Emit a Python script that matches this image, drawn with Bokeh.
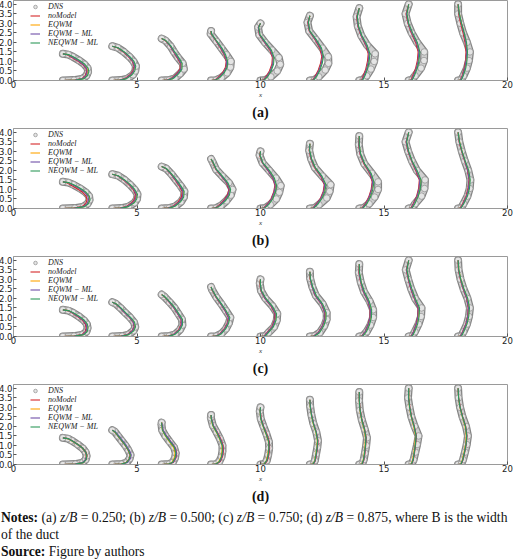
from bokeh.plotting import figure
from bokeh.models import Range1d, Legend, LegendItem, Title, Div, FixedTicker, NumeralTickFormatter, Label
from bokeh.layouts import column
from bokeh.embed import file_html
from bokeh.resources import INLINE

# ---------------- data ----------------
STATIONS = [2, 4, 6, 8, 10, 12, 14, 16, 18]

Y_X2 = [0, .02, .1, .25, .45, .65, .85, 1.05, 1.25, 1.36, 1.4]
Y_X4 = [0, .02, .1, .3, .5, .75, 1.0, 1.25, 1.5, 1.72, 1.8]
Y_X6 = [0, .02, .12, .35, .6, .9, 1.2, 1.5, 1.8, 2.1, 2.2]
Y_X8 = [0, .02, .15, .4, .7, 1.0, 1.35, 1.7, 2.05, 2.45, 2.6]
Y_X10 = [0, .03, .2, .5, .85, 1.2, 1.6, 2.0, 2.4, 2.8, 3.0]
Y_X12 = [0, .03, .2, .55, .9, 1.25, 1.7, 2.15, 2.6, 3.05, 3.4]
Y_X14 = [0, .03, .25, .6, 1.0, 1.4, 1.85, 2.35, 2.85, 3.35, 3.8]
Y_X16 = [0, .03, .25, .65, 1.05, 1.5, 2.0, 2.5, 3.0, 3.5, 4.0]
Y_X18 = [0, .03, .25, .65, 1.05, 1.5, 2.0, 2.5, 3.0, 3.5, 4.0]
Y_LEVELS = [Y_X2, Y_X4, Y_X6, Y_X8, Y_X10, Y_X12, Y_X14, Y_X16, Y_X18]

# streamwise velocity offsets u (profile x = station + u), one list per station
# ---- (a) z/B = 0.250
A_DNS = [
    [0, .45, .8, .95, 1.02, 1.0, .87, .66, .4, .22, 0],
    [0, .35, .62, .84, .93, .96, .86, .69, .47, .22, 0],
    [0, .3, .54, .74, .9, .85, .66, .5, .36, .15, 0],
    [0, .2, .42, .65, .78, .8, .62, .42, .22, -.02, 0],
    [0, .2, .42, .68, .8, .74, .46, .18, -.05, -.1, 0],
    [0, .18, .36, .62, .75, .74, .5, .24, -.03, -.1, 0],
    [0, .15, .3, .47, .6, .64, .32, .08, -.06, -.11, 0],
    [0, .13, .26, .5, .62, .63, .34, .12, -.04, -.13, 0],
    [0, .12, .22, .36, .44, .48, .36, .2, .09, 0, 0],
]
A_NOMODEL = [
    [0, .48, .77, .9, .96, .93, .79, .57, .31, .15, 0],
    [0, .29, .5, .72, .83, .88, .81, .65, .44, .2, 0],
    [0, .21, .4, .6, .74, .76, .62, .48, .34, .14, 0],
    [0, .14, .28, .46, .58, .61, .53, .38, .21, 0, 0],
    [0, .11, .22, .36, .46, .48, .38, .16, -.05, -.09, 0],
    [0, .11, .2, .34, .43, .48, .4, .2, -.03, -.09, 0],
    [0, .09, .16, .26, .33, .36, .26, .07, -.06, -.11, 0],
    [0, .09, .16, .28, .35, .38, .28, .1, -.03, -.11, 0],
    [0, .09, .16, .25, .3, .32, .28, .2, .1, .02, 0],
]
A_EQWM = [
    [0, .52, .83, .96, 1.01, .98, .85, .63, .37, .2, 0],
    [0, .34, .56, .77, .87, .91, .84, .68, .47, .22, 0],
    [0, .26, .46, .65, .78, .79, .65, .5, .36, .15, 0],
    [0, .18, .33, .5, .62, .64, .56, .41, .23, 0, 0],
    [0, .15, .27, .4, .5, .52, .41, .18, -.03, -.08, 0],
    [0, .14, .25, .38, .47, .52, .44, .23, -.01, -.07, 0],
    [0, .12, .2, .3, .37, .4, .29, .09, -.04, -.09, 0],
    [0, .12, .2, .32, .39, .42, .32, .13, -.01, -.08, 0],
    [0, .11, .19, .28, .33, .35, .32, .24, .14, .05, 0],
]
A_EQWM_ML = [
    [0, .5, .8, .93, .98, .95, .82, .61, .35, .19, 0],
    [0, .31, .53, .75, .86, .9, .83, .67, .46, .22, 0],
    [0, .23, .43, .63, .77, .78, .64, .49, .35, .15, 0],
    [0, .16, .31, .49, .61, .63, .55, .4, .22, 0, 0],
    [0, .13, .25, .39, .49, .51, .4, .17, -.04, -.09, 0],
    [0, .13, .23, .37, .46, .51, .43, .22, -.02, -.08, 0],
    [0, .11, .19, .29, .36, .39, .28, .08, -.05, -.1, 0],
    [0, .11, .19, .31, .38, .41, .31, .12, -.02, -.09, 0],
    [0, .1, .18, .27, .32, .35, .31, .23, .13, .04, 0],
]
A_NEQWM_ML = [
    [0, .54, .86, .99, 1.05, 1.02, .89, .68, .42, .23, 0],
    [0, .35, .58, .8, .91, .95, .88, .71, .49, .23, 0],
    [0, .27, .48, .68, .82, .83, .69, .53, .38, .17, 0],
    [0, .19, .35, .53, .65, .67, .59, .44, .24, .02, 0],
    [0, .16, .29, .43, .53, .55, .44, .21, -.02, -.07, 0],
    [0, .16, .27, .41, .5, .55, .47, .26, 0, -.06, 0],
    [0, .14, .23, .33, .4, .43, .32, .11, -.03, -.08, 0],
    [0, .14, .23, .35, .42, .45, .35, .16, 0, -.07, 0],
    [0, .13, .21, .31, .36, .38, .34, .25, .14, .05, 0],
]
# ---- (b) z/B = 0.500
B_DNS = [
    [0, .48, .84, 1.0, 1.08, 1.06, .92, .7, .42, .22, 0],
    [0, .38, .66, .9, 1.0, 1.02, .9, .72, .5, .24, 0],
    [0, .3, .56, .78, .9, .92, .76, .58, .4, .18, 0],
    [0, .2, .4, .62, .8, .87, .72, .45, .2, .06, 0],
    [0, .2, .4, .64, .76, .82, .62, .35, .08, -.04, 0],
    [0, .2, .37, .68, .8, .84, .5, .2, .05, -.03, 0],
    [0, .18, .4, .62, .76, .76, .5, .2, .04, -.02, 0],
    [0, .15, .26, .52, .64, .66, .33, .13, -.02, -.13, 0],
    [0, .12, .22, .38, .47, .5, .41, .27, .15, .05, 0],
]
B_NOMODEL = [
    [0, .43, .77, .92, .98, .94, .8, .56, .3, .14, 0],
    [0, .3, .55, .79, .9, .94, .84, .66, .45, .21, 0],
    [0, .23, .46, .67, .8, .83, .7, .54, .37, .16, 0],
    [0, .14, .3, .5, .66, .72, .62, .41, .19, .05, 0],
    [0, .12, .26, .42, .53, .58, .5, .3, .07, -.04, 0],
    [0, .12, .24, .43, .54, .58, .43, .18, .04, -.03, 0],
    [0, .11, .24, .38, .48, .52, .42, .18, .03, -.03, 0],
    [0, .09, .18, .32, .4, .43, .28, .11, -.03, -.11, 0],
    [0, .08, .18, .32, .4, .44, .38, .26, .14, .04, 0],
]
B_EQWM = [
    [0, .5, .85, 1.0, 1.07, 1.04, .9, .68, .4, .2, 0],
    [0, .35, .62, .86, .96, .99, .88, .7, .48, .23, 0],
    [0, .28, .52, .73, .86, .88, .74, .57, .4, .18, 0],
    [0, .18, .35, .55, .71, .76, .65, .43, .2, .06, 0],
    [0, .16, .3, .46, .57, .62, .53, .33, .09, -.03, 0],
    [0, .16, .28, .47, .58, .62, .46, .21, .06, -.02, 0],
    [0, .15, .28, .42, .52, .56, .45, .21, .05, -.01, 0],
    [0, .13, .22, .36, .44, .47, .31, .13, -.01, -.09, 0],
    [0, .11, .21, .35, .43, .47, .41, .28, .16, .06, 0],
]
B_EQWM_ML = [
    [0, .48, .82, .98, 1.04, 1.01, .88, .66, .38, .2, 0],
    [0, .33, .59, .83, .94, .97, .87, .69, .47, .22, 0],
    [0, .26, .49, .71, .84, .86, .73, .56, .38, .17, 0],
    [0, .16, .33, .53, .69, .74, .64, .42, .2, .06, 0],
    [0, .14, .28, .44, .55, .6, .51, .31, .08, -.03, 0],
    [0, .14, .26, .45, .56, .6, .45, .2, .05, -.02, 0],
    [0, .13, .26, .4, .5, .54, .44, .2, .04, -.02, 0],
    [0, .11, .2, .34, .42, .45, .3, .12, -.02, -.1, 0],
    [0, .1, .2, .34, .42, .45, .39, .27, .15, .05, 0],
]
B_NEQWM_ML = [
    [0, .52, .88, 1.03, 1.1, 1.07, .94, .72, .44, .23, 0],
    [0, .37, .65, .89, .99, 1.02, .91, .73, .5, .24, 0],
    [0, .3, .54, .76, .89, .91, .77, .6, .41, .19, 0],
    [0, .19, .37, .58, .74, .79, .68, .46, .22, .07, 0],
    [0, .17, .33, .49, .6, .65, .56, .36, .1, -.02, 0],
    [0, .17, .31, .5, .61, .65, .49, .22, .07, -.01, 0],
    [0, .16, .31, .45, .55, .59, .48, .22, .06, 0, 0],
    [0, .14, .25, .39, .47, .5, .34, .14, 0, -.08, 0],
    [0, .12, .23, .38, .46, .49, .43, .29, .16, .06, 0],
]
# ---- (c) z/B = 0.750
C_DNS = [
    [0, .45, .8, .95, 1.0, .97, .85, .65, .4, .22, 0],
    [0, .4, .66, .86, .93, .88, .72, .52, .33, .14, 0],
    [0, .3, .55, .74, .84, .82, .67, .52, .32, .1, 0],
    [0, .22, .42, .6, .72, .78, .6, .42, .22, .04, 0],
    [0, .2, .32, .55, .66, .68, .48, .2, .02, -.03, 0],
    [0, .2, .4, .58, .68, .68, .52, .24, .1, .01, 0],
    [0, .15, .3, .45, .56, .56, .42, .19, .06, -.02, 0],
    [0, .15, .25, .4, .5, .52, .26, .1, -.02, -.12, 0],
    [0, .13, .22, .36, .44, .48, .38, .22, .1, .02, 0],
]
C_NOMODEL = [
    [0, .45, .77, .9, .94, .91, .79, .59, .36, .19, 0],
    [0, .34, .6, .8, .88, .84, .69, .49, .31, .13, 0],
    [0, .25, .48, .68, .78, .78, .64, .49, .3, .09, 0],
    [0, .18, .36, .53, .65, .7, .56, .39, .2, .03, 0],
    [0, .15, .26, .46, .56, .58, .42, .17, .01, -.03, 0],
    [0, .15, .33, .5, .59, .6, .47, .21, .09, 0, 0],
    [0, .1, .23, .35, .43, .44, .35, .16, .05, -.02, 0],
    [0, .1, .19, .3, .36, .38, .22, .08, -.02, -.1, 0],
    [0, .09, .18, .31, .38, .41, .34, .2, .09, .01, 0],
]
C_EQWM = [
    [0, .48, .82, .95, .99, .96, .84, .64, .39, .21, 0],
    [0, .38, .64, .84, .91, .87, .71, .52, .33, .14, 0],
    [0, .28, .52, .71, .81, .81, .66, .51, .32, .1, 0],
    [0, .21, .39, .56, .68, .73, .59, .41, .22, .04, 0],
    [0, .18, .3, .5, .6, .62, .45, .2, .03, -.02, 0],
    [0, .18, .36, .53, .62, .63, .5, .24, .1, .01, 0],
    [0, .13, .26, .38, .46, .47, .38, .19, .07, 0, 0],
    [0, .13, .22, .33, .39, .41, .25, .11, 0, -.08, 0],
    [0, .12, .21, .34, .41, .44, .37, .23, .11, .03, 0],
]
C_EQWM_ML = [
    [0, .47, .8, .93, .97, .94, .82, .62, .38, .2, 0],
    [0, .36, .62, .82, .89, .85, .7, .5, .32, .13, 0],
    [0, .27, .5, .7, .8, .79, .65, .5, .31, .1, 0],
    [0, .19, .37, .55, .67, .71, .57, .4, .21, .04, 0],
    [0, .16, .28, .48, .58, .6, .44, .18, .02, -.02, 0],
    [0, .16, .34, .51, .6, .61, .48, .22, .09, .01, 0],
    [0, .11, .24, .36, .44, .45, .36, .17, .06, -.01, 0],
    [0, .11, .2, .31, .37, .39, .23, .09, -.01, -.09, 0],
    [0, .1, .19, .32, .39, .42, .35, .21, .1, .02, 0],
]
C_NEQWM_ML = [
    [0, .5, .85, .98, 1.02, .99, .87, .67, .42, .23, 0],
    [0, .41, .67, .87, .94, .9, .74, .54, .35, .15, 0],
    [0, .31, .55, .74, .84, .84, .69, .54, .34, .12, 0],
    [0, .23, .42, .59, .71, .76, .61, .43, .23, .05, 0],
    [0, .2, .32, .52, .63, .65, .48, .22, .04, -.01, 0],
    [0, .2, .39, .56, .65, .66, .52, .26, .12, .02, 0],
    [0, .15, .29, .41, .49, .5, .4, .21, .08, .01, 0],
    [0, .15, .24, .36, .42, .44, .27, .13, .01, -.07, 0],
    [0, .14, .23, .36, .43, .46, .39, .24, .11, .03, 0],
]
# ---- (d) z/B = 0.875
D_DNS = [
    [0, .5, .8, .92, .96, .92, .8, .6, .36, .2, 0],
    [0, .38, .58, .7, .74, .65, .53, .38, .23, .1, 0],
    [0, .3, .45, .54, .57, .5, .32, .15, .02, -.01, 0],
    [0, .2, .33, .42, .46, .46, .36, .22, .07, -.01, 0],
    [0, .16, .25, .31, .35, .34, .24, .12, .01, -.03, 0],
    [0, .14, .2, .25, .3, .33, .26, .14, .06, .01, 0],
    [0, .12, .18, .23, .28, .31, .22, .1, .02, -.01, 0],
    [0, .12, .2, .27, .34, .4, .24, .11, .03, -.03, 0],
    [0, .13, .2, .28, .35, .4, .32, .18, .08, .02, 0],
]
D_NOMODEL = [
    [0, .52, .83, .94, .98, .94, .82, .62, .38, .21, 0],
    [0, .36, .56, .68, .72, .64, .52, .37, .22, .09, 0],
    [0, .32, .48, .58, .61, .54, .36, .19, .05, .01, 0],
    [0, .23, .37, .46, .5, .49, .39, .25, .09, .01, 0],
    [0, .18, .28, .34, .37, .36, .26, .13, .03, -.01, 0],
    [0, .15, .22, .27, .31, .33, .26, .15, .07, .02, 0],
    [0, .13, .19, .23, .26, .28, .22, .11, .04, 0, 0],
    [0, .13, .19, .24, .28, .31, .23, .12, .05, 0, 0],
    [0, .13, .2, .27, .33, .36, .31, .19, .09, .02, 0],
]
D_EQWM = [
    [0, .5, .8, .91, .94, .9, .78, .58, .34, .18, 0],
    [0, .38, .58, .7, .74, .66, .54, .39, .24, .1, 0],
    [0, .27, .42, .51, .54, .48, .31, .15, .03, 0, 0],
    [0, .18, .31, .4, .44, .44, .34, .21, .06, 0, 0],
    [0, .14, .23, .29, .33, .32, .22, .1, .01, -.02, 0],
    [0, .12, .19, .24, .28, .3, .24, .13, .06, .01, 0],
    [0, .1, .16, .2, .23, .25, .19, .09, .02, 0, 0],
    [0, .1, .16, .21, .25, .28, .2, .1, .03, 0, 0],
    [0, .11, .17, .24, .3, .33, .28, .17, .07, .02, 0],
]
D_EQWM_ML = [
    [0, .49, .79, .91, .95, .91, .79, .59, .36, .2, 0],
    [0, .4, .61, .73, .77, .69, .57, .42, .27, .12, 0],
    [0, .3, .47, .57, .6, .54, .37, .2, .06, .02, 0],
    [0, .21, .35, .44, .48, .47, .37, .24, .09, .01, 0],
    [0, .16, .26, .32, .35, .34, .24, .12, .02, -.02, 0],
    [0, .14, .21, .26, .3, .32, .26, .15, .07, .02, 0],
    [0, .12, .18, .22, .25, .27, .21, .1, .03, 0, 0],
    [0, .12, .18, .23, .27, .3, .22, .11, .04, -.01, 0],
    [0, .12, .19, .26, .32, .35, .3, .18, .08, .02, 0],
]
D_NEQWM_ML = [
    [0, .53, .83, .94, .97, .93, .81, .61, .37, .2, 0],
    [0, .37, .57, .69, .73, .65, .53, .38, .23, .1, 0],
    [0, .29, .44, .54, .57, .51, .33, .16, .03, 0, 0],
    [0, .19, .33, .42, .46, .45, .35, .22, .07, 0, 0],
    [0, .15, .25, .31, .34, .33, .23, .11, .01, -.02, 0],
    [0, .13, .2, .25, .29, .31, .25, .14, .06, .01, 0],
    [0, .11, .17, .21, .25, .27, .21, .1, .03, 0, 0],
    [0, .11, .18, .23, .27, .3, .22, .11, .04, 0, 0],
    [0, .12, .19, .26, .32, .35, .3, .18, .08, .02, 0],
]

PANEL_LABELS = ["(a)", "(b)", "(c)", "(d)"]
SERIES_NAMES = ["noModel", "EQWM", "EQWM \u2212 ML", "NEQWM \u2212 ML"]
SERIES_COLORS = ["#d62728", "#ffa500", "#6f4fa8", "#2e9a5a"]
X_TICKS = [0, 5, 10, 15, 20]
Y_TICKS = [0.0, 0.5, 1.0, 1.5, 2.0, 2.5, 3.0, 3.5, 4.0]
Y_MAX = 4.2

PANELS = [
    (A_DNS, [A_NOMODEL, A_EQWM, A_EQWM_ML, A_NEQWM_ML]),
    (B_DNS, [B_NOMODEL, B_EQWM, B_EQWM_ML, B_NEQWM_ML]),
    (C_DNS, [C_NOMODEL, C_EQWM, C_EQWM_ML, C_NEQWM_ML]),
    (D_DNS, [D_NOMODEL, D_EQWM, D_EQWM_ML, D_NEQWM_ML]),
]

SERIF = "Liberation Serif"
SANS = "DejaVu Sans"


def profiles(u_lists):
    xs = [[s + u for u in us] for s, us in zip(STATIONS, u_lists)]
    ys = [list(y) for y in Y_LEVELS]
    return xs, ys


def make_panel(label, dns, models, total_height):
    p = figure(frame_width=494, frame_height=80,
               x_range=Range1d(0, 20), y_range=Range1d(0, Y_MAX),
               output_backend="svg", toolbar_location=None,
               min_border_left=20, min_border_right=6, min_border_top=1,
               min_border_bottom=total_height - 81)
    p.xgrid.visible = False
    p.ygrid.visible = False
    p.outline_line_color = "#9a9a9a"
    p.background_fill_color = "white"
    p.border_fill_color = "white"

    xs, ys = profiles(dns)
    p.multi_line(xs, ys, line_color="#858585", line_width=8, line_join="round", line_cap="round")
    p.multi_line(xs, ys, line_color="#d0d0d0", line_width=5.5, line_join="round", line_cap="round")
    px = [v for row in xs for v in row]
    py = [v for row in ys for v in row]
    r_dns = p.scatter(px, py, marker="circle", size=6.5, line_color="#8c8c8c",
                      fill_color="#e4e4e4", line_width=0.7)
    items = [LegendItem(label="DNS", renderers=[r_dns])]
    for name, color, ser in zip(SERIES_NAMES, SERIES_COLORS, models):
        mx, my = profiles(ser)
        r = p.multi_line(mx, my, line_color=color, line_width=1.1)
        items.append(LegendItem(label=name, renderers=[r]))

    legend = Legend(items=items, location=(17, 33), padding=0, margin=0,
                    spacing=0, label_height=9, glyph_height=9, glyph_width=10,
                    label_standoff=8, label_text_font=SERIF,
                    label_text_font_style="italic", label_text_font_size="8px",
                    label_text_color="#222222",
                    border_line_alpha=0, background_fill_alpha=0)
    p.add_layout(legend, "center")

    for ax in (p.xaxis[0], p.yaxis[0]):
        ax.major_tick_in = 3
        ax.major_tick_out = 0
        ax.minor_tick_line_color = None
        ax.axis_line_color = "#9a9a9a"
        ax.major_tick_line_color = "#555555"
        ax.major_label_text_font = SANS
        ax.major_label_text_font_size = "8.5px"
        ax.major_label_text_color = "#222222"
        ax.axis_label_text_font = SERIF
        ax.axis_label_text_font_style = "italic"
        ax.axis_label_text_color = "#333333"
    p.xaxis[0].ticker = FixedTicker(ticks=X_TICKS)
    p.yaxis[0].ticker = FixedTicker(ticks=Y_TICKS)
    p.yaxis[0].formatter = NumeralTickFormatter(format="0.0")
    p.xaxis[0].major_label_standoff = 0
    p.yaxis[0].major_label_standoff = 1
    p.xaxis[0].axis_label = "x"
    p.xaxis[0].axis_label_text_font_size = "7px"
    p.xaxis[0].axis_label_standoff = 0

    # y-axis title placed just left of the tick labels (kept inside the canvas)
    p.add_layout(Label(x=-16, x_units="screen", y=Y_MAX / 2, y_units="data",
                       text="y", angle=1.5708, text_align="center",
                       text_baseline="middle", text_font=SERIF,
                       text_font_style="italic", text_font_size="7px",
                       text_color="#333333"))

    p.add_layout(Title(text=label, align="center", text_font=SERIF,
                       text_font_size="14px", text_font_style="bold",
                       text_color="#111111", standoff=2), "below")
    return p


heights = [128, 128, 128, 121]
figs = [make_panel(lab, d, m, h) for lab, (d, m), h in zip(PANEL_LABELS, PANELS, heights)]

notes_html = (
    '<div style="font-family:\'Liberation Serif\',\'Times New Roman\',serif;'
    'font-size:13.6px;line-height:17px;color:#111;white-space:nowrap;padding-left:3px;">'
    '<b>Notes:</b> (a) <i>z/B</i> = 0.250; (b) <i>z/B</i> = 0.500; '
    '(c) <i>z/B</i> = 0.750; (d) <i>z/B</i> = 0.875, where B is the width<br>'
    'of the duct<br><b>Source:</b> Figure by authors</div>'
)
notes = Div(text=notes_html, width=518, height=50)

layout = column(*figs, notes, spacing=0,
                styles={"margin-left": "-7px", "margin-top": "-1px"})

open("out.html", "w").write(file_html(layout, INLINE))
